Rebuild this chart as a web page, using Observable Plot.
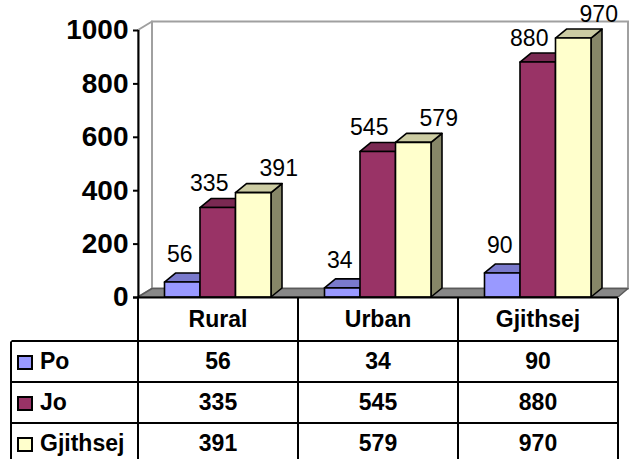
<!DOCTYPE html>
<html><head><meta charset="utf-8">
<script src="https://cdn.jsdelivr.net/npm/d3@7"></script>
<script src="https://cdn.jsdelivr.net/npm/@observablehq/plot@0.6"></script>
<style>
body{margin:0;background:#fff;font-family:Arial,"Liberation Sans",sans-serif;}
#wrap{position:relative;width:633px;height:459px;overflow:hidden;}
#wrap svg{display:block;position:absolute;left:0;top:0;}
#tbl{position:absolute;left:10px;top:298px;border-collapse:separate;border-spacing:0;table-layout:fixed;width:609px;font-family:Arial,"Liberation Sans",sans-serif;font-weight:bold;font-size:23px;color:#000;}
#tbl td{box-sizing:border-box;padding:0;text-align:center;vertical-align:middle;border-right:2px solid #000;border-bottom:2px solid #000;line-height:1;}
#tbl td.first{border-left:2px solid #000;text-align:left;padding-left:5px;white-space:nowrap;}
#tbl td.corner{border-left:2px solid transparent;}
#tbl tr.head td{height:44px;}
#tbl tr.body td{height:41px;}
.sw{display:inline-block;width:12px;height:11px;border:2px solid #000;margin-right:7px;vertical-align:-1px;}
</style></head><body><div id="wrap"></div>
<script>
// ---- data ----
const categories = ["Rural", "Urban", "Gjithsej"];
const seriesNames = ["Po", "Jo", "Gjithsej"];
const po = [56, 34, 90];
const jo = [335, 545, 880];
const gjithsej = [391, 579, 970];
const yTicks = [0, 200, 400, 600, 800, 1000];
const seriesValues = [po, jo, gjithsej];

// ---- styles ----
const frontColors = ["#9999FF", "#993366", "#FFFFCC"];
const topColors = ["#7A7ACC", "#7A2952", "#CCCCA3"];
const sideColors = ["#5C5C99", "#5C1F3D", "#868668"];
const labelDx = [-3, -9, 25];
const labelDy = [-28, -24, -24];

const W = 633, H = 459, ML = 138, MR = 15, MT = 30, MB = 162;
const nCat = categories.length;
const yMax = d3.max(yTicks);
const catPx = (W - ML - MR) / nCat;
const pxPerUnit = (H - MT - MB) / yMax;
const barStart = 26.5 / catPx, barW = 35.5 / catPx;
const depthX = 11 / catPx, depthY = 9 / pxPerUnit;
const wallDxL = 14 / catPx, wallDxR = 10 / catPx, wallDy = 8.5 / pxPerUnit;
const tickLen = 5 / catPx;

const rows = [];
seriesNames.forEach((s, si) => categories.forEach((c, ci) => {
  const v = seriesValues[si][ci];
  const x1 = ci + barStart + si * barW;
  rows.push({s, si, c, ci, v, x1, x2: x1 + barW, key: s + "|" + c});
}));

const marks = [];
// back/side walls and floor
marks.push(Plot.areaY([{x: 0, y1: 0, y2: yMax}, {x: wallDxL, y1: wallDy, y2: yMax + wallDy}],
  {x: "x", y1: "y1", y2: "y2", fill: "white", stroke: "#a0a0a0", strokeWidth: 2}));
marks.push(Plot.rect([0], {x1: () => wallDxL, x2: () => nCat + wallDxR, y1: () => wallDy, y2: () => yMax + wallDy,
  fill: "white", stroke: "#a0a0a0", strokeWidth: 2}));
marks.push(Plot.areaX([{y: 0, x1: 0, x2: nCat}, {y: wallDy, x1: wallDxL, x2: nCat + wallDxR}],
  {y: "y", x1: "x1", x2: "x2", fill: "#888888", stroke: "#5a5a5a", strokeWidth: 1.5}));

// 3D bars
seriesNames.forEach((s, si) => {
  const data = rows.filter(d => d.si === si);
  const sidePts = data.flatMap(d => [
    {key: d.key, x: d.x2, y1: 0, y2: d.v},
    {key: d.key, x: d.x2 + depthX, y1: depthY, y2: d.v + depthY}
  ]);
  const topPts = data.flatMap(d => [
    {key: d.key, y: d.v, x1: d.x1, x2: d.x2},
    {key: d.key, y: d.v + depthY, x1: d.x1 + depthX, x2: d.x2 + depthX}
  ]);
  marks.push(Plot.areaY(sidePts, {x: "x", y1: "y1", y2: "y2", z: "key", fill: sideColors[si], stroke: "black", strokeWidth: 1.6, strokeLinejoin: "round"}));
  marks.push(Plot.areaX(topPts, {y: "y", x1: "x1", x2: "x2", z: "key", fill: topColors[si], stroke: "black", strokeWidth: 1.6, strokeLinejoin: "round"}));
  marks.push(Plot.rect(data, {x1: "x1", x2: "x2", y1: () => 0, y2: "v", fill: frontColors[si], stroke: "black", strokeWidth: 1.6, strokeLinejoin: "round"}));
});

// axis
marks.push(Plot.ruleX([0], {x: d => d, y1: () => 0, y2: () => yMax, stroke: "black", strokeWidth: 2}));
marks.push(Plot.ruleY(yTicks, {y: d => d, x1: () => -tickLen, x2: () => 0, stroke: "black", strokeWidth: 2}));
marks.push(Plot.ruleY([0], {y: d => d, x1: () => -tickLen, x2: () => nCat, stroke: "black", strokeWidth: 2}));
marks.push(Plot.text(yTicks, {x: () => 0, y: d => d, text: d => String(d), dx: -10, textAnchor: "end",
  fontSize: 28, fontWeight: "bold", fill: "black"}));

// data labels
seriesNames.forEach((s, si) => {
  const data = rows.filter(d => d.si === si);
  marks.push(Plot.text(data, {x: d => (d.x1 + d.x2) / 2, y: "v", text: d => String(d.v),
    dx: labelDx[si], dy: labelDy[si], fontSize: 23, fill: "black"}));
});

const chart = Plot.plot({
  width: W, height: H,
  marginLeft: ML, marginRight: MR, marginTop: MT, marginBottom: MB,
  x: {domain: [0, nCat], axis: null},
  y: {domain: [0, yMax], axis: null},
  style: {fontFamily: "Arial, 'Liberation Sans', sans-serif", background: "transparent", overflow: "visible"},
  marks
});
const wrap = document.getElementById("wrap");
wrap.appendChild(chart);

// data table
const tbl = document.createElement("table");
tbl.id = "tbl";
const colg = document.createElement("colgroup");
[129, 160, 160, 160].forEach(w => { const c = document.createElement("col"); c.style.width = w + "px"; colg.appendChild(c); });
tbl.appendChild(colg);
const head = document.createElement("tr");
head.className = "head";
const corner = document.createElement("td");
corner.className = "corner";
head.appendChild(corner);
categories.forEach(c => { const td = document.createElement("td"); td.textContent = c; head.appendChild(td); });
tbl.appendChild(head);
seriesNames.forEach((s, si) => {
  const tr = document.createElement("tr");
  tr.className = "body";
  const th = document.createElement("td");
  th.className = "first";
  const sw = document.createElement("span");
  sw.className = "sw";
  sw.style.background = frontColors[si];
  th.appendChild(sw);
  th.appendChild(document.createTextNode(s));
  tr.appendChild(th);
  seriesValues[si].forEach(v => { const td = document.createElement("td"); td.textContent = v; tr.appendChild(td); });
  tbl.appendChild(tr);
});
wrap.appendChild(tbl);
</script></body></html>
